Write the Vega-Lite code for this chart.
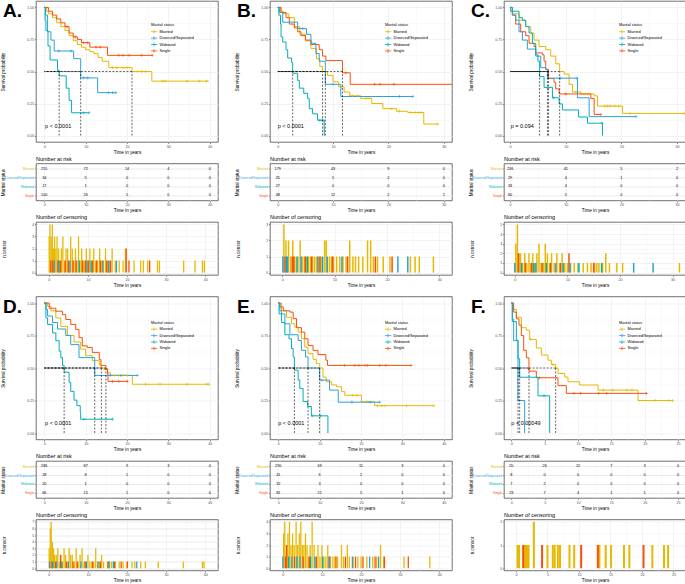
{
"$schema": "https://vega.github.io/schema/vega-lite/v6.json",
"padding": {"left": 0, "top": 0, "right": 0, "bottom": 0},
"background": "white",
"config": {
 "font": "Liberation Sans",
 "view": {"stroke": "#333333", "strokeWidth": 0.7},
 "axis": {"labelFontSize": 3.6, "titleFontSize": 4.6, "titleFontWeight": "normal", "labelColor": "#4d4d4d", "titleColor": "#000000", "tickSize": 1.5, "tickColor": "#333333", "tickWidth": 0.5, "labelPadding": 0.8, "titlePadding": 1.2, "domain": false, "grid": true, "gridColor": "#ebebeb", "labelOverlap": false, "tickCount": 100, "labelFont": "Liberation Sans", "titleFont": "Liberation Sans"},
 "title": {"fontSize": 5.5, "fontWeight": "normal", "anchor": "start", "frame": "group", "offset": 1.5, "font": "Liberation Sans"},
 "legend": {"titleFontSize": 3.9, "titleFontWeight": "normal", "labelFontSize": 3.9, "symbolSize": 20, "symbolStrokeWidth": 0.8, "clipHeight": 5, "rowPadding": 1.4, "titlePadding": 2.3, "labelOffset": 2.5, "symbolType": "M-1.5,0H1.5M0,-0.8V0.8", "padding": 0, "labelFont": "Liberation Sans", "titleFont": "Liberation Sans"},
 "text": {"font": "Liberation Sans"}
},
"datasets": {
"km": [
{"p":"A","g":"Married","t":0,"s":1},{"p":"A","g":"Married","t":0.5,"s":0.97},{"p":"A","g":"Married","t":1,"s":0.95},{"p":"A","g":"Married","t":2,"s":0.92},{"p":"A","g":"Married","t":3,"s":0.88},{"p":"A","g":"Married","t":4,"s":0.85},{"p":"A","g":"Married","t":5,"s":0.82},{"p":"A","g":"Married","t":6,"s":0.78},{"p":"A","g":"Married","t":7,"s":0.74},{"p":"A","g":"Married","t":8,"s":0.71},{"p":"A","g":"Married","t":9,"s":0.69},{"p":"A","g":"Married","t":10,"s":0.67},{"p":"A","g":"Married","t":11,"s":0.655},{"p":"A","g":"Married","t":12,"s":0.64},{"p":"A","g":"Married","t":13,"s":0.61},{"p":"A","g":"Married","t":14,"s":0.58},{"p":"A","g":"Married","t":15.6,"s":0.53},{"p":"A","g":"Married","t":21.2,"s":0.5},{"p":"A","g":"Married","t":26,"s":0.425},{"p":"A","g":"Married","t":39.8,"s":0.425},
{"p":"A","g":"Single","t":0,"s":1},{"p":"A","g":"Single","t":1,"s":0.97},{"p":"A","g":"Single","t":2,"s":0.94},{"p":"A","g":"Single","t":3,"s":0.91},{"p":"A","g":"Single","t":4,"s":0.88},{"p":"A","g":"Single","t":5,"s":0.85},{"p":"A","g":"Single","t":6,"s":0.8},{"p":"A","g":"Single","t":7,"s":0.77},{"p":"A","g":"Single","t":8,"s":0.75},{"p":"A","g":"Single","t":9,"s":0.725},{"p":"A","g":"Single","t":11,"s":0.69},{"p":"A","g":"Single","t":15.3,"s":0.626},{"p":"A","g":"Single","t":26.1,"s":0.626},
{"p":"A","g":"Divorced/Separated","t":0,"s":1},{"p":"A","g":"Divorced/Separated","t":0.3,"s":0.94},{"p":"A","g":"Divorced/Separated","t":0.8,"s":0.81},{"p":"A","g":"Divorced/Separated","t":1.6,"s":0.745},{"p":"A","g":"Divorced/Separated","t":2.4,"s":0.66},{"p":"A","g":"Divorced/Separated","t":7.1,"s":0.6},{"p":"A","g":"Divorced/Separated","t":8.8,"s":0.45},{"p":"A","g":"Divorced/Separated","t":12.9,"s":0.335},{"p":"A","g":"Divorced/Separated","t":17.3,"s":0.335},
{"p":"A","g":"Widowed","t":0,"s":1},{"p":"A","g":"Widowed","t":0.2,"s":0.9},{"p":"A","g":"Widowed","t":0.4,"s":0.82},{"p":"A","g":"Widowed","t":0.9,"s":0.7},{"p":"A","g":"Widowed","t":1.4,"s":0.59},{"p":"A","g":"Widowed","t":3.2,"s":0.51},{"p":"A","g":"Widowed","t":3.6,"s":0.466},{"p":"A","g":"Widowed","t":5.3,"s":0.37},{"p":"A","g":"Widowed","t":6,"s":0.275},{"p":"A","g":"Widowed","t":6.6,"s":0.178},{"p":"A","g":"Widowed","t":10.8,"s":0.178},
{"p":"B","g":"Married","t":0,"s":1},{"p":"B","g":"Married","t":0.5,"s":0.97},{"p":"B","g":"Married","t":1,"s":0.95},{"p":"B","g":"Married","t":2,"s":0.92},{"p":"B","g":"Married","t":3,"s":0.85},{"p":"B","g":"Married","t":4,"s":0.79},{"p":"B","g":"Married","t":5,"s":0.74},{"p":"B","g":"Married","t":6,"s":0.68},{"p":"B","g":"Married","t":7,"s":0.6},{"p":"B","g":"Married","t":7.6,"s":0.54},{"p":"B","g":"Married","t":8.1,"s":0.5},{"p":"B","g":"Married","t":9,"s":0.47},{"p":"B","g":"Married","t":10,"s":0.42},{"p":"B","g":"Married","t":11,"s":0.38},{"p":"B","g":"Married","t":12,"s":0.34},{"p":"B","g":"Married","t":13,"s":0.31},{"p":"B","g":"Married","t":15,"s":0.29},{"p":"B","g":"Married","t":17,"s":0.25},{"p":"B","g":"Married","t":19,"s":0.21},{"p":"B","g":"Married","t":21.5,"s":0.19},{"p":"B","g":"Married","t":23.5,"s":0.18},{"p":"B","g":"Married","t":26.4,"s":0.09},{"p":"B","g":"Married","t":28.9,"s":0.09},
{"p":"B","g":"Single","t":0,"s":1},{"p":"B","g":"Single","t":0.6,"s":0.96},{"p":"B","g":"Single","t":1.5,"s":0.92},{"p":"B","g":"Single","t":2.1,"s":0.87},{"p":"B","g":"Single","t":3,"s":0.84},{"p":"B","g":"Single","t":3.6,"s":0.81},{"p":"B","g":"Single","t":4.2,"s":0.78},{"p":"B","g":"Single","t":5,"s":0.745},{"p":"B","g":"Single","t":6,"s":0.71},{"p":"B","g":"Single","t":7.5,"s":0.67},{"p":"B","g":"Single","t":8.1,"s":0.62},{"p":"B","g":"Single","t":8.7,"s":0.585},{"p":"B","g":"Single","t":11.7,"s":0.49},{"p":"B","g":"Single","t":13.1,"s":0.4},{"p":"B","g":"Single","t":31.5,"s":0.4},
{"p":"B","g":"Divorced/Separated","t":0,"s":1},{"p":"B","g":"Divorced/Separated","t":0.3,"s":0.96},{"p":"B","g":"Divorced/Separated","t":0.9,"s":0.885},{"p":"B","g":"Divorced/Separated","t":3.6,"s":0.835},{"p":"B","g":"Divorced/Separated","t":5.2,"s":0.79},{"p":"B","g":"Divorced/Separated","t":6,"s":0.72},{"p":"B","g":"Divorced/Separated","t":6.9,"s":0.64},{"p":"B","g":"Divorced/Separated","t":7.5,"s":0.58},{"p":"B","g":"Divorced/Separated","t":8.6,"s":0.4},{"p":"B","g":"Divorced/Separated","t":11.4,"s":0.305},{"p":"B","g":"Divorced/Separated","t":24.4,"s":0.305},
{"p":"B","g":"Widowed","t":0,"s":1},{"p":"B","g":"Widowed","t":0.2,"s":0.94},{"p":"B","g":"Widowed","t":0.5,"s":0.87},{"p":"B","g":"Widowed","t":0.6,"s":0.77},{"p":"B","g":"Widowed","t":0.9,"s":0.73},{"p":"B","g":"Widowed","t":1.5,"s":0.67},{"p":"B","g":"Widowed","t":1.8,"s":0.605},{"p":"B","g":"Widowed","t":2.5,"s":0.57},{"p":"B","g":"Widowed","t":2.7,"s":0.486},{"p":"B","g":"Widowed","t":3.6,"s":0.43},{"p":"B","g":"Widowed","t":3.9,"s":0.37},{"p":"B","g":"Widowed","t":4.7,"s":0.33},{"p":"B","g":"Widowed","t":5.4,"s":0.29},{"p":"B","g":"Widowed","t":5.7,"s":0.21},{"p":"B","g":"Widowed","t":6.3,"s":0.17},{"p":"B","g":"Widowed","t":7.2,"s":0.12},{"p":"B","g":"Widowed","t":8.4,"s":0},
{"p":"C","g":"Married","t":0,"s":1},{"p":"C","g":"Married","t":0.4,"s":0.95},{"p":"C","g":"Married","t":1.6,"s":0.9},{"p":"C","g":"Married","t":2.8,"s":0.85},{"p":"C","g":"Married","t":3.7,"s":0.8},{"p":"C","g":"Married","t":4.3,"s":0.745},{"p":"C","g":"Married","t":5.2,"s":0.695},{"p":"C","g":"Married","t":6.4,"s":0.67},{"p":"C","g":"Married","t":7.3,"s":0.62},{"p":"C","g":"Married","t":8.2,"s":0.56},{"p":"C","g":"Married","t":8.9,"s":0.5},{"p":"C","g":"Married","t":9.7,"s":0.48},{"p":"C","g":"Married","t":10.6,"s":0.4},{"p":"C","g":"Married","t":11.2,"s":0.34},{"p":"C","g":"Married","t":12.7,"s":0.325},{"p":"C","g":"Married","t":15.1,"s":0.31},{"p":"C","g":"Married","t":15.7,"s":0.23},{"p":"C","g":"Married","t":20.2,"s":0.173},{"p":"C","g":"Married","t":31.3,"s":0.173},
{"p":"C","g":"Single","t":0,"s":1},{"p":"C","g":"Single","t":0.4,"s":0.94},{"p":"C","g":"Single","t":1,"s":0.87},{"p":"C","g":"Single","t":1.9,"s":0.81},{"p":"C","g":"Single","t":2.8,"s":0.78},{"p":"C","g":"Single","t":3.4,"s":0.72},{"p":"C","g":"Single","t":4.3,"s":0.695},{"p":"C","g":"Single","t":4.6,"s":0.645},{"p":"C","g":"Single","t":5.8,"s":0.63},{"p":"C","g":"Single","t":6.1,"s":0.58},{"p":"C","g":"Single","t":6.4,"s":0.517},{"p":"C","g":"Single","t":6.9,"s":0.445},{"p":"C","g":"Single","t":7.9,"s":0.415},{"p":"C","g":"Single","t":8.2,"s":0.364},{"p":"C","g":"Single","t":8.8,"s":0.325},{"p":"C","g":"Single","t":14.5,"s":0.29},{"p":"C","g":"Single","t":15.1,"s":0.165},{"p":"C","g":"Single","t":16.3,"s":0.165},
{"p":"C","g":"Divorced/Separated","t":0,"s":1},{"p":"C","g":"Divorced/Separated","t":0.4,"s":0.94},{"p":"C","g":"Divorced/Separated","t":1,"s":0.9},{"p":"C","g":"Divorced/Separated","t":1.6,"s":0.81},{"p":"C","g":"Divorced/Separated","t":2.2,"s":0.745},{"p":"C","g":"Divorced/Separated","t":3.1,"s":0.675},{"p":"C","g":"Divorced/Separated","t":4.6,"s":0.62},{"p":"C","g":"Divorced/Separated","t":5.5,"s":0.53},{"p":"C","g":"Divorced/Separated","t":6.4,"s":0.517},{"p":"C","g":"Divorced/Separated","t":6.7,"s":0.448},{"p":"C","g":"Divorced/Separated","t":12.1,"s":0.295},{"p":"C","g":"Divorced/Separated","t":14.2,"s":0.148},{"p":"C","g":"Divorced/Separated","t":22.6,"s":0.148},
{"p":"C","g":"Widowed","t":0,"s":1},{"p":"C","g":"Widowed","t":0.1,"s":0.97},{"p":"C","g":"Widowed","t":1.6,"s":0.92},{"p":"C","g":"Widowed","t":2.2,"s":0.9},{"p":"C","g":"Widowed","t":2.8,"s":0.85},{"p":"C","g":"Widowed","t":3.4,"s":0.8},{"p":"C","g":"Widowed","t":4,"s":0.72},{"p":"C","g":"Widowed","t":4.6,"s":0.63},{"p":"C","g":"Widowed","t":5,"s":0.58},{"p":"C","g":"Widowed","t":5.3,"s":0.46},{"p":"C","g":"Widowed","t":6.1,"s":0.376},{"p":"C","g":"Widowed","t":7.6,"s":0.295},{"p":"C","g":"Widowed","t":8.8,"s":0.247},{"p":"C","g":"Widowed","t":9.4,"s":0.2},{"p":"C","g":"Widowed","t":12.3,"s":0.145},{"p":"C","g":"Widowed","t":13.9,"s":0.097},{"p":"C","g":"Widowed","t":16.6,"s":0},
{"p":"D","g":"Married","t":0,"s":1},{"p":"D","g":"Married","t":0.8,"s":0.975},{"p":"D","g":"Married","t":1.6,"s":0.94},{"p":"D","g":"Married","t":2.8,"s":0.885},{"p":"D","g":"Married","t":4,"s":0.82},{"p":"D","g":"Married","t":5.6,"s":0.75},{"p":"D","g":"Married","t":7.2,"s":0.7},{"p":"D","g":"Married","t":8.8,"s":0.645},{"p":"D","g":"Married","t":10,"s":0.595},{"p":"D","g":"Married","t":11.6,"s":0.557},{"p":"D","g":"Married","t":13.3,"s":0.524},{"p":"D","g":"Married","t":13.8,"s":0.5},{"p":"D","g":"Married","t":14.5,"s":0.489},{"p":"D","g":"Married","t":15.3,"s":0.463},{"p":"D","g":"Married","t":16,"s":0.443},{"p":"D","g":"Married","t":21.3,"s":0.375},{"p":"D","g":"Married","t":39.8,"s":0.375},
{"p":"D","g":"Single","t":0,"s":1},{"p":"D","g":"Single","t":1.2,"s":0.96},{"p":"D","g":"Single","t":2.8,"s":0.937},{"p":"D","g":"Single","t":4.4,"s":0.91},{"p":"D","g":"Single","t":5.2,"s":0.873},{"p":"D","g":"Single","t":6.4,"s":0.835},{"p":"D","g":"Single","t":7.6,"s":0.797},{"p":"D","g":"Single","t":8.4,"s":0.734},{"p":"D","g":"Single","t":9.2,"s":0.67},{"p":"D","g":"Single","t":10.4,"s":0.658},{"p":"D","g":"Single","t":11.6,"s":0.62},{"p":"D","g":"Single","t":13.3,"s":0.565},{"p":"D","g":"Single","t":13.7,"s":0.52},{"p":"D","g":"Single","t":14.9,"s":0.494},{"p":"D","g":"Single","t":15.3,"s":0.463},{"p":"D","g":"Single","t":15.4,"s":0.397},{"p":"D","g":"Single","t":20.1,"s":0.397},
{"p":"D","g":"Divorced/Separated","t":0,"s":1},{"p":"D","g":"Divorced/Separated","t":0.4,"s":0.95},{"p":"D","g":"Divorced/Separated","t":0.8,"s":0.9},{"p":"D","g":"Divorced/Separated","t":2,"s":0.85},{"p":"D","g":"Divorced/Separated","t":3.2,"s":0.8},{"p":"D","g":"Divorced/Separated","t":5.2,"s":0.75},{"p":"D","g":"Divorced/Separated","t":6.4,"s":0.68},{"p":"D","g":"Divorced/Separated","t":8.4,"s":0.58},{"p":"D","g":"Divorced/Separated","t":12.2,"s":0.443},{"p":"D","g":"Divorced/Separated","t":22.5,"s":0.443},
{"p":"D","g":"Widowed","t":0,"s":1},{"p":"D","g":"Widowed","t":0.4,"s":0.886},{"p":"D","g":"Widowed","t":0.8,"s":0.835},{"p":"D","g":"Widowed","t":2,"s":0.77},{"p":"D","g":"Widowed","t":2.8,"s":0.71},{"p":"D","g":"Widowed","t":3.6,"s":0.63},{"p":"D","g":"Widowed","t":4,"s":0.58},{"p":"D","g":"Widowed","t":4.4,"s":0.52},{"p":"D","g":"Widowed","t":4.8,"s":0.468},{"p":"D","g":"Widowed","t":6,"s":0.39},{"p":"D","g":"Widowed","t":6.4,"s":0.32},{"p":"D","g":"Widowed","t":7.2,"s":0.253},{"p":"D","g":"Widowed","t":7.9,"s":0.21},{"p":"D","g":"Widowed","t":8.7,"s":0.16},{"p":"D","g":"Widowed","t":8.8,"s":0.106},{"p":"D","g":"Widowed","t":16.5,"s":0.106},
{"p":"E","g":"Married","t":0,"s":1},{"p":"E","g":"Married","t":0.8,"s":0.94},{"p":"E","g":"Married","t":2,"s":0.89},{"p":"E","g":"Married","t":3.2,"s":0.84},{"p":"E","g":"Married","t":4,"s":0.814},{"p":"E","g":"Married","t":4.8,"s":0.776},{"p":"E","g":"Married","t":5.6,"s":0.725},{"p":"E","g":"Married","t":6.4,"s":0.66},{"p":"E","g":"Married","t":7.2,"s":0.61},{"p":"E","g":"Married","t":8.4,"s":0.567},{"p":"E","g":"Married","t":9.2,"s":0.534},{"p":"E","g":"Married","t":10,"s":0.5},{"p":"E","g":"Married","t":10.8,"s":0.43},{"p":"E","g":"Married","t":11.6,"s":0.394},{"p":"E","g":"Married","t":12.9,"s":0.37},{"p":"E","g":"Married","t":14.1,"s":0.356},{"p":"E","g":"Married","t":15.3,"s":0.318},{"p":"E","g":"Married","t":16.1,"s":0.29},{"p":"E","g":"Married","t":20.1,"s":0.24},{"p":"E","g":"Married","t":23.3,"s":0.21},{"p":"E","g":"Married","t":37.6,"s":0.21},
{"p":"E","g":"Single","t":0,"s":1},{"p":"E","g":"Single","t":0.4,"s":0.97},{"p":"E","g":"Single","t":1.2,"s":0.94},{"p":"E","g":"Single","t":2.8,"s":0.93},{"p":"E","g":"Single","t":3.6,"s":0.88},{"p":"E","g":"Single","t":4.4,"s":0.81},{"p":"E","g":"Single","t":5.6,"s":0.776},{"p":"E","g":"Single","t":6.4,"s":0.725},{"p":"E","g":"Single","t":7.2,"s":0.674},{"p":"E","g":"Single","t":8.4,"s":0.636},{"p":"E","g":"Single","t":9.6,"s":0.603},{"p":"E","g":"Single","t":11.5,"s":0.56},{"p":"E","g":"Single","t":11.9,"s":0.52},{"p":"E","g":"Single","t":32.1,"s":0.52},
{"p":"E","g":"Divorced/Separated","t":0,"s":1},{"p":"E","g":"Divorced/Separated","t":0.4,"s":0.94},{"p":"E","g":"Divorced/Separated","t":0.8,"s":0.916},{"p":"E","g":"Divorced/Separated","t":1.6,"s":0.84},{"p":"E","g":"Divorced/Separated","t":2.8,"s":0.756},{"p":"E","g":"Divorced/Separated","t":4.8,"s":0.712},{"p":"E","g":"Divorced/Separated","t":5.6,"s":0.636},{"p":"E","g":"Divorced/Separated","t":6.6,"s":0.585},{"p":"E","g":"Divorced/Separated","t":7.2,"s":0.5},{"p":"E","g":"Divorced/Separated","t":10,"s":0.407},{"p":"E","g":"Divorced/Separated","t":12.4,"s":0.33},{"p":"E","g":"Divorced/Separated","t":14.5,"s":0.237},{"p":"E","g":"Divorced/Separated","t":24.5,"s":0.237},
{"p":"E","g":"Widowed","t":0,"s":1},{"p":"E","g":"Widowed","t":0.2,"s":0.916},{"p":"E","g":"Widowed","t":0.8,"s":0.85},{"p":"E","g":"Widowed","t":1.6,"s":0.756},{"p":"E","g":"Widowed","t":2.6,"s":0.725},{"p":"E","g":"Widowed","t":3.2,"s":0.65},{"p":"E","g":"Widowed","t":3.6,"s":0.585},{"p":"E","g":"Widowed","t":3.9,"s":0.483},{"p":"E","g":"Widowed","t":4.8,"s":0.407},{"p":"E","g":"Widowed","t":5.2,"s":0.343},{"p":"E","g":"Widowed","t":6,"s":0.242},{"p":"E","g":"Widowed","t":7.1,"s":0.204},{"p":"E","g":"Widowed","t":8,"s":0.132},{"p":"E","g":"Widowed","t":12,"s":0},
{"p":"F","g":"Married","t":0,"s":1},{"p":"F","g":"Married","t":0.25,"s":0.95},{"p":"F","g":"Married","t":0.75,"s":0.89},{"p":"F","g":"Married","t":1.5,"s":0.81},{"p":"F","g":"Married","t":2.25,"s":0.79},{"p":"F","g":"Married","t":2.75,"s":0.72},{"p":"F","g":"Married","t":3.75,"s":0.654},{"p":"F","g":"Married","t":4.5,"s":0.6},{"p":"F","g":"Married","t":5.5,"s":0.56},{"p":"F","g":"Married","t":6,"s":0.527},{"p":"F","g":"Married","t":6.65,"s":0.5},{"p":"F","g":"Married","t":7,"s":0.458},{"p":"F","g":"Married","t":8,"s":0.43},{"p":"F","g":"Married","t":8.5,"s":0.394},{"p":"F","g":"Married","t":10.25,"s":0.369},{"p":"F","g":"Married","t":13,"s":0.33},{"p":"F","g":"Married","t":19,"s":0.25},{"p":"F","g":"Married","t":24.25,"s":0.25},
{"p":"F","g":"Single","t":0,"s":1},{"p":"F","g":"Single","t":0.35,"s":0.93},{"p":"F","g":"Single","t":0.75,"s":0.878},{"p":"F","g":"Single","t":1.15,"s":0.83},{"p":"F","g":"Single","t":1.5,"s":0.75},{"p":"F","g":"Single","t":1.85,"s":0.636},{"p":"F","g":"Single","t":2.25,"s":0.578},{"p":"F","g":"Single","t":2.65,"s":0.476},{"p":"F","g":"Single","t":3.75,"s":0.425},{"p":"F","g":"Single","t":7,"s":0.364},{"p":"F","g":"Single","t":8.25,"s":0.305},{"p":"F","g":"Single","t":20.25,"s":0.305},
{"p":"F","g":"Divorced/Separated","t":0,"s":1},{"p":"F","g":"Divorced/Separated","t":0.15,"s":0.875},{"p":"F","g":"Divorced/Separated","t":0.35,"s":0.71},{"p":"F","g":"Divorced/Separated","t":1,"s":0.25},{"p":"F","g":"Divorced/Separated","t":2,"s":0},
{"p":"F","g":"Widowed","t":0,"s":1},{"p":"F","g":"Widowed","t":0.15,"s":0.857},{"p":"F","g":"Widowed","t":0.75,"s":0.714},{"p":"F","g":"Widowed","t":1,"s":0.571},{"p":"F","g":"Widowed","t":1.25,"s":0.429},{"p":"F","g":"Widowed","t":4,"s":0.286},{"p":"F","g":"Widowed","t":5.75,"s":0}
],
"kc": [
{"p":"A","g":"Married","t":16.5,"s":0.53},{"p":"A","g":"Married","t":17.5,"s":0.53},{"p":"A","g":"Married","t":19,"s":0.53},{"p":"A","g":"Married","t":20,"s":0.53},{"p":"A","g":"Married","t":22.5,"s":0.5},{"p":"A","g":"Married","t":23.5,"s":0.5},{"p":"A","g":"Married","t":24.5,"s":0.5},{"p":"A","g":"Married","t":28.5,"s":0.425},{"p":"A","g":"Married","t":29.2,"s":0.425},{"p":"A","g":"Married","t":34.5,"s":0.425},{"p":"A","g":"Married","t":37.5,"s":0.425},{"p":"A","g":"Married","t":39.2,"s":0.425},
{"p":"A","g":"Single","t":5.5,"s":0.85},{"p":"A","g":"Single","t":7.5,"s":0.77},{"p":"A","g":"Single","t":9.5,"s":0.725},{"p":"A","g":"Single","t":10.5,"s":0.725},{"p":"A","g":"Single","t":12.5,"s":0.69},{"p":"A","g":"Single","t":13.5,"s":0.69},{"p":"A","g":"Single","t":18,"s":0.626},{"p":"A","g":"Single","t":19,"s":0.626},{"p":"A","g":"Single","t":20.5,"s":0.626},{"p":"A","g":"Single","t":23.5,"s":0.626},{"p":"A","g":"Single","t":26.1,"s":0.626},
{"p":"A","g":"Divorced/Separated","t":3.5,"s":0.66},{"p":"A","g":"Divorced/Separated","t":6.5,"s":0.66},{"p":"A","g":"Divorced/Separated","t":9.5,"s":0.45},{"p":"A","g":"Divorced/Separated","t":10.5,"s":0.45},{"p":"A","g":"Divorced/Separated","t":15.5,"s":0.335},{"p":"A","g":"Divorced/Separated","t":16.5,"s":0.335},{"p":"A","g":"Divorced/Separated","t":17.3,"s":0.335},
{"p":"A","g":"Widowed","t":9.5,"s":0.178},{"p":"A","g":"Widowed","t":10.8,"s":0.178},
{"p":"B","g":"Married","t":13.5,"s":0.31},{"p":"B","g":"Married","t":14.5,"s":0.31},{"p":"B","g":"Married","t":16,"s":0.29},{"p":"B","g":"Married","t":16.5,"s":0.29},{"p":"B","g":"Married","t":20.5,"s":0.21},{"p":"B","g":"Married","t":22,"s":0.19},{"p":"B","g":"Married","t":24,"s":0.18},{"p":"B","g":"Married","t":24.8,"s":0.18},{"p":"B","g":"Married","t":25.5,"s":0.18},{"p":"B","g":"Married","t":26,"s":0.18},{"p":"B","g":"Married","t":28.9,"s":0.09},
{"p":"B","g":"Single","t":12.3,"s":0.49},{"p":"B","g":"Single","t":17.5,"s":0.4},{"p":"B","g":"Single","t":18.5,"s":0.4},{"p":"B","g":"Single","t":21,"s":0.4},
{"p":"B","g":"Divorced/Separated","t":4.5,"s":0.835},{"p":"B","g":"Divorced/Separated","t":10,"s":0.4},{"p":"B","g":"Divorced/Separated","t":22,"s":0.305},{"p":"B","g":"Divorced/Separated","t":24.4,"s":0.305},
{"p":"B","g":"Widowed","t":7.6,"s":0.12},{"p":"B","g":"Widowed","t":8.1,"s":0.12},
{"p":"C","g":"Married","t":11.8,"s":0.34},{"p":"C","g":"Married","t":13.5,"s":0.325},{"p":"C","g":"Married","t":17,"s":0.23},{"p":"C","g":"Married","t":17.5,"s":0.23},{"p":"C","g":"Married","t":18,"s":0.23},{"p":"C","g":"Married","t":18.8,"s":0.23},{"p":"C","g":"Married","t":19.5,"s":0.23},{"p":"C","g":"Married","t":21.5,"s":0.173},{"p":"C","g":"Married","t":31.3,"s":0.173},
{"p":"C","g":"Single","t":10,"s":0.325},{"p":"C","g":"Single","t":16.3,"s":0.165},
{"p":"C","g":"Divorced/Separated","t":9,"s":0.448},{"p":"C","g":"Divorced/Separated","t":12,"s":0.448},{"p":"C","g":"Divorced/Separated","t":22.6,"s":0.148},
{"p":"C","g":"Widowed","t":7.8,"s":0.295},{"p":"C","g":"Widowed","t":16.5,"s":0.097},
{"p":"D","g":"Married","t":17,"s":0.443},{"p":"D","g":"Married","t":18,"s":0.443},{"p":"D","g":"Married","t":19,"s":0.443},{"p":"D","g":"Married","t":20,"s":0.443},{"p":"D","g":"Married","t":24.5,"s":0.375},{"p":"D","g":"Married","t":28,"s":0.375},{"p":"D","g":"Married","t":34.5,"s":0.375},{"p":"D","g":"Married","t":39.3,"s":0.375},{"p":"D","g":"Married","t":39.8,"s":0.375},
{"p":"D","g":"Single","t":16.5,"s":0.397},{"p":"D","g":"Single","t":18,"s":0.397},{"p":"D","g":"Single","t":20.1,"s":0.397},
{"p":"D","g":"Divorced/Separated","t":16,"s":0.443},{"p":"D","g":"Divorced/Separated","t":18.5,"s":0.443},{"p":"D","g":"Divorced/Separated","t":22.5,"s":0.443},
{"p":"D","g":"Widowed","t":9.6,"s":0.106},{"p":"D","g":"Widowed","t":16.5,"s":0.106},
{"p":"E","g":"Married","t":18,"s":0.29},{"p":"E","g":"Married","t":19,"s":0.29},{"p":"E","g":"Married","t":21.5,"s":0.24},{"p":"E","g":"Married","t":24,"s":0.21},{"p":"E","g":"Married","t":25,"s":0.21},{"p":"E","g":"Married","t":25.8,"s":0.21},{"p":"E","g":"Married","t":31,"s":0.21},{"p":"E","g":"Married","t":37.6,"s":0.21},
{"p":"E","g":"Single","t":16,"s":0.52},{"p":"E","g":"Single","t":18.5,"s":0.52},{"p":"E","g":"Single","t":19.5,"s":0.52},{"p":"E","g":"Single","t":21,"s":0.52},{"p":"E","g":"Single","t":21.6,"s":0.52},{"p":"E","g":"Single","t":24.5,"s":0.52},{"p":"E","g":"Single","t":26,"s":0.52},{"p":"E","g":"Single","t":32.1,"s":0.52},
{"p":"E","g":"Divorced/Separated","t":10.5,"s":0.407},{"p":"E","g":"Divorced/Separated","t":17.8,"s":0.237},{"p":"E","g":"Divorced/Separated","t":22.2,"s":0.237},{"p":"E","g":"Divorced/Separated","t":24.5,"s":0.237},
{"p":"E","g":"Widowed","t":8.2,"s":0.132},{"p":"E","g":"Widowed","t":10.2,"s":0.132},
{"p":"F","g":"Married","t":2.9,"s":0.72},{"p":"F","g":"Married","t":6.3,"s":0.527},{"p":"F","g":"Married","t":13.8,"s":0.33},{"p":"F","g":"Married","t":15.2,"s":0.33},{"p":"F","g":"Married","t":17.3,"s":0.33},{"p":"F","g":"Married","t":18.1,"s":0.33},{"p":"F","g":"Married","t":21.6,"s":0.25},{"p":"F","g":"Married","t":23.6,"s":0.25},{"p":"F","g":"Married","t":24.2,"s":0.25},
{"p":"F","g":"Single","t":4.2,"s":0.425},{"p":"F","g":"Single","t":9.4,"s":0.305},{"p":"F","g":"Single","t":10.4,"s":0.305},{"p":"F","g":"Single","t":13.1,"s":0.305},{"p":"F","g":"Single","t":14.3,"s":0.305},{"p":"F","g":"Single","t":20.25,"s":0.305},
{"p":"F","g":"Widowed","t":4.9,"s":0.286}
],
"med": [
{"p":"A","t":3.6},{"p":"A","t":8.8},{"p":"A","t":21.2},
{"p":"B","t":2.7},{"p":"B","t":8.1},{"p":"B","t":8.6},{"p":"B","t":11.7},
{"p":"C","t":5.3},{"p":"C","t":6.7},{"p":"C","t":6.9},{"p":"C","t":8.9},
{"p":"D","t":4.8},{"p":"D","t":12.2},{"p":"D","t":13.8},{"p":"D","t":14.9},
{"p":"E","t":3.9},{"p":"E","t":7.2},{"p":"E","t":10},
{"p":"F","t":1},{"p":"F","t":1.25},{"p":"F","t":2.65},{"p":"F","t":6.65}
],
"pv": [
{"p":"A","label":"p < 0.0001"},{"p":"B","label":"p < 0.0001"},{"p":"C","label":"p = 0.094"},{"p":"D","label":"p < 0.0001"},{"p":"E","label":"p < 0.0001"},{"p":"F","label":"p = 0.00049"}
],
"risk": [
{"p":"A","g":"Married","t":0,"n":255},{"p":"A","g":"Married","t":10,"n":72},{"p":"A","g":"Married","t":20,"n":14},{"p":"A","g":"Married","t":30,"n":4},{"p":"A","g":"Married","t":40,"n":0},
{"p":"A","g":"Divorced/Separated","t":0,"n":34},{"p":"A","g":"Divorced/Separated","t":10,"n":5},{"p":"A","g":"Divorced/Separated","t":20,"n":0},{"p":"A","g":"Divorced/Separated","t":30,"n":0},{"p":"A","g":"Divorced/Separated","t":40,"n":0},
{"p":"A","g":"Widowed","t":0,"n":17},{"p":"A","g":"Widowed","t":10,"n":1},{"p":"A","g":"Widowed","t":20,"n":0},{"p":"A","g":"Widowed","t":30,"n":0},{"p":"A","g":"Widowed","t":40,"n":0},
{"p":"A","g":"Single","t":0,"n":100},{"p":"A","g":"Single","t":10,"n":26},{"p":"A","g":"Single","t":20,"n":5},{"p":"A","g":"Single","t":30,"n":0},{"p":"A","g":"Single","t":40,"n":0},
{"p":"B","g":"Married","t":0,"n":179},{"p":"B","g":"Married","t":10,"n":43},{"p":"B","g":"Married","t":20,"n":9},{"p":"B","g":"Married","t":30,"n":0},
{"p":"B","g":"Divorced/Separated","t":0,"n":25},{"p":"B","g":"Divorced/Separated","t":10,"n":5},{"p":"B","g":"Divorced/Separated","t":20,"n":2},{"p":"B","g":"Divorced/Separated","t":30,"n":0},
{"p":"B","g":"Widowed","t":0,"n":27},{"p":"B","g":"Widowed","t":10,"n":0},{"p":"B","g":"Widowed","t":20,"n":0},{"p":"B","g":"Widowed","t":30,"n":0},
{"p":"B","g":"Single","t":0,"n":48},{"p":"B","g":"Single","t":10,"n":12},{"p":"B","g":"Single","t":20,"n":2},{"p":"B","g":"Single","t":30,"n":1},
{"p":"C","g":"Married","t":0,"n":236},{"p":"C","g":"Married","t":10,"n":41},{"p":"C","g":"Married","t":20,"n":5},{"p":"C","g":"Married","t":30,"n":2},
{"p":"C","g":"Divorced/Separated","t":0,"n":29},{"p":"C","g":"Divorced/Separated","t":10,"n":4},{"p":"C","g":"Divorced/Separated","t":20,"n":1},{"p":"C","g":"Divorced/Separated","t":30,"n":0},
{"p":"C","g":"Widowed","t":0,"n":34},{"p":"C","g":"Widowed","t":10,"n":4},{"p":"C","g":"Widowed","t":20,"n":0},{"p":"C","g":"Widowed","t":30,"n":0},
{"p":"C","g":"Single","t":0,"n":60},{"p":"C","g":"Single","t":10,"n":5},{"p":"C","g":"Single","t":20,"n":0},{"p":"C","g":"Single","t":30,"n":0},
{"p":"D","g":"Married","t":0,"n":286},{"p":"D","g":"Married","t":10,"n":87},{"p":"D","g":"Married","t":20,"n":9},{"p":"D","g":"Married","t":30,"n":3},{"p":"D","g":"Married","t":40,"n":0},
{"p":"D","g":"Divorced/Separated","t":0,"n":28},{"p":"D","g":"Divorced/Separated","t":10,"n":8},{"p":"D","g":"Divorced/Separated","t":20,"n":1},{"p":"D","g":"Divorced/Separated","t":30,"n":0},{"p":"D","g":"Divorced/Separated","t":40,"n":0},
{"p":"D","g":"Widowed","t":0,"n":20},{"p":"D","g":"Widowed","t":10,"n":1},{"p":"D","g":"Widowed","t":20,"n":0},{"p":"D","g":"Widowed","t":30,"n":0},{"p":"D","g":"Widowed","t":40,"n":0},
{"p":"D","g":"Single","t":0,"n":66},{"p":"D","g":"Single","t":10,"n":15},{"p":"D","g":"Single","t":20,"n":1},{"p":"D","g":"Single","t":30,"n":0},{"p":"D","g":"Single","t":40,"n":0},
{"p":"E","g":"Married","t":0,"n":290},{"p":"E","g":"Married","t":10,"n":69},{"p":"E","g":"Married","t":20,"n":11},{"p":"E","g":"Married","t":30,"n":3},{"p":"E","g":"Married","t":40,"n":0},
{"p":"E","g":"Divorced/Separated","t":0,"n":41},{"p":"E","g":"Divorced/Separated","t":10,"n":6},{"p":"E","g":"Divorced/Separated","t":20,"n":2},{"p":"E","g":"Divorced/Separated","t":30,"n":0},{"p":"E","g":"Divorced/Separated","t":40,"n":0},
{"p":"E","g":"Widowed","t":0,"n":32},{"p":"E","g":"Widowed","t":10,"n":3},{"p":"E","g":"Widowed","t":20,"n":0},{"p":"E","g":"Widowed","t":30,"n":0},{"p":"E","g":"Widowed","t":40,"n":0},
{"p":"E","g":"Single","t":0,"n":81},{"p":"E","g":"Single","t":10,"n":21},{"p":"E","g":"Single","t":20,"n":5},{"p":"E","g":"Single","t":30,"n":1},{"p":"E","g":"Single","t":40,"n":0},
{"p":"F","g":"Married","t":0,"n":55},{"p":"F","g":"Married","t":5,"n":26},{"p":"F","g":"Married","t":10,"n":12},{"p":"F","g":"Married","t":15,"n":7},{"p":"F","g":"Married","t":20,"n":3},{"p":"F","g":"Married","t":25,"n":0},
{"p":"F","g":"Divorced/Separated","t":0,"n":8},{"p":"F","g":"Divorced/Separated","t":5,"n":0},{"p":"F","g":"Divorced/Separated","t":10,"n":0},{"p":"F","g":"Divorced/Separated","t":15,"n":0},{"p":"F","g":"Divorced/Separated","t":20,"n":0},{"p":"F","g":"Divorced/Separated","t":25,"n":0},
{"p":"F","g":"Widowed","t":0,"n":7},{"p":"F","g":"Widowed","t":5,"n":2},{"p":"F","g":"Widowed","t":10,"n":0},{"p":"F","g":"Widowed","t":15,"n":0},{"p":"F","g":"Widowed","t":20,"n":0},{"p":"F","g":"Widowed","t":25,"n":0},
{"p":"F","g":"Single","t":0,"n":23},{"p":"F","g":"Single","t":5,"n":7},{"p":"F","g":"Single","t":10,"n":4},{"p":"F","g":"Single","t":15,"n":1},{"p":"F","g":"Single","t":20,"n":1},{"p":"F","g":"Single","t":25,"n":0}
],
"cens": [
{"p":"A","g":"Married","t":0.1,"n":3},{"p":"A","g":"Married","t":0.3,"n":4},{"p":"A","g":"Married","t":0.6,"n":3},{"p":"A","g":"Married","t":0.9,"n":4},{"p":"A","g":"Married","t":1.2,"n":2},{"p":"A","g":"Married","t":1.5,"n":3},{"p":"A","g":"Married","t":1.8,"n":2},{"p":"A","g":"Married","t":2.1,"n":3},{"p":"A","g":"Married","t":2.5,"n":2},{"p":"A","g":"Married","t":2.8,"n":1},{"p":"A","g":"Married","t":3.2,"n":2},{"p":"A","g":"Married","t":3.6,"n":3},{"p":"A","g":"Married","t":4,"n":1},{"p":"A","g":"Married","t":4.4,"n":2},{"p":"A","g":"Married","t":4.8,"n":2},{"p":"A","g":"Married","t":5.2,"n":1},{"p":"A","g":"Married","t":5.6,"n":3},{"p":"A","g":"Married","t":6,"n":2},{"p":"A","g":"Married","t":6.4,"n":1},{"p":"A","g":"Married","t":6.8,"n":2},{"p":"A","g":"Married","t":7.2,"n":1},{"p":"A","g":"Married","t":7.6,"n":3},{"p":"A","g":"Married","t":8,"n":1},{"p":"A","g":"Married","t":8.4,"n":2},{"p":"A","g":"Married","t":8.8,"n":1},{"p":"A","g":"Married","t":9.2,"n":1},{"p":"A","g":"Married","t":9.6,"n":2},{"p":"A","g":"Married","t":10,"n":1},{"p":"A","g":"Married","t":10.5,"n":2},{"p":"A","g":"Married","t":11,"n":1},{"p":"A","g":"Married","t":11.5,"n":2},{"p":"A","g":"Married","t":12,"n":1},{"p":"A","g":"Married","t":12.5,"n":1},{"p":"A","g":"Married","t":13,"n":2},{"p":"A","g":"Married","t":13.5,"n":1},{"p":"A","g":"Married","t":14,"n":1},{"p":"A","g":"Married","t":14.5,"n":2},{"p":"A","g":"Married","t":15,"n":1},{"p":"A","g":"Married","t":15.5,"n":1},{"p":"A","g":"Married","t":16.2,"n":2},{"p":"A","g":"Married","t":17,"n":1},{"p":"A","g":"Married","t":18,"n":1},{"p":"A","g":"Married","t":19,"n":1},{"p":"A","g":"Married","t":19.6,"n":2},{"p":"A","g":"Married","t":21.8,"n":1},{"p":"A","g":"Married","t":23.5,"n":1},{"p":"A","g":"Married","t":24.2,"n":1},{"p":"A","g":"Married","t":25.3,"n":1},{"p":"A","g":"Married","t":27.8,"n":1},{"p":"A","g":"Married","t":28.3,"n":1},{"p":"A","g":"Married","t":34.5,"n":1},{"p":"A","g":"Married","t":37.4,"n":1},{"p":"A","g":"Married","t":39.3,"n":1},{"p":"A","g":"Married","t":39.8,"n":1},
{"p":"A","g":"Single","t":0.5,"n":1},{"p":"A","g":"Single","t":1,"n":1},{"p":"A","g":"Single","t":2.3,"n":1},{"p":"A","g":"Single","t":3,"n":1},{"p":"A","g":"Single","t":4.2,"n":1},{"p":"A","g":"Single","t":5,"n":1},{"p":"A","g":"Single","t":6.2,"n":1},{"p":"A","g":"Single","t":7,"n":1},{"p":"A","g":"Single","t":8.6,"n":1},{"p":"A","g":"Single","t":9.4,"n":1},{"p":"A","g":"Single","t":10.2,"n":1},{"p":"A","g":"Single","t":11.2,"n":1},{"p":"A","g":"Single","t":12.2,"n":1},{"p":"A","g":"Single","t":13.2,"n":1},{"p":"A","g":"Single","t":14.8,"n":1},{"p":"A","g":"Single","t":15.8,"n":1},{"p":"A","g":"Single","t":19.8,"n":2},{"p":"A","g":"Single","t":20.5,"n":1},{"p":"A","g":"Single","t":25.8,"n":1},
{"p":"A","g":"Divorced/Separated","t":1.4,"n":1},{"p":"A","g":"Divorced/Separated","t":5.4,"n":1},{"p":"A","g":"Divorced/Separated","t":9.8,"n":1},{"p":"A","g":"Divorced/Separated","t":13.8,"n":1},{"p":"A","g":"Divorced/Separated","t":15.3,"n":1},{"p":"A","g":"Divorced/Separated","t":17.3,"n":1},
{"p":"A","g":"Widowed","t":2.6,"n":1},{"p":"A","g":"Widowed","t":7.8,"n":1},{"p":"A","g":"Widowed","t":10.8,"n":1},
{"p":"B","g":"Married","t":0.3,"n":3},{"p":"B","g":"Married","t":0.7,"n":2},{"p":"B","g":"Married","t":1.2,"n":2},{"p":"B","g":"Married","t":1.6,"n":1},{"p":"B","g":"Married","t":2,"n":2},{"p":"B","g":"Married","t":2.4,"n":1},{"p":"B","g":"Married","t":3,"n":1},{"p":"B","g":"Married","t":3.4,"n":2},{"p":"B","g":"Married","t":3.8,"n":1},{"p":"B","g":"Married","t":4.2,"n":1},{"p":"B","g":"Married","t":4.6,"n":1},{"p":"B","g":"Married","t":5,"n":1},{"p":"B","g":"Married","t":5.4,"n":1},{"p":"B","g":"Married","t":5.8,"n":1},{"p":"B","g":"Married","t":6.2,"n":1},{"p":"B","g":"Married","t":6.6,"n":1},{"p":"B","g":"Married","t":7,"n":1},{"p":"B","g":"Married","t":7.4,"n":1},{"p":"B","g":"Married","t":8.1,"n":2},{"p":"B","g":"Married","t":8.4,"n":2},{"p":"B","g":"Married","t":9,"n":1},{"p":"B","g":"Married","t":9.4,"n":1},{"p":"B","g":"Married","t":9.8,"n":1},{"p":"B","g":"Married","t":10.4,"n":1},{"p":"B","g":"Married","t":11,"n":1},{"p":"B","g":"Married","t":11.6,"n":1},{"p":"B","g":"Married","t":12.2,"n":1},{"p":"B","g":"Married","t":12.9,"n":2},{"p":"B","g":"Married","t":13.5,"n":1},{"p":"B","g":"Married","t":14,"n":1},{"p":"B","g":"Married","t":14.6,"n":1},{"p":"B","g":"Married","t":15.4,"n":1},{"p":"B","g":"Married","t":16.3,"n":2},{"p":"B","g":"Married","t":16.9,"n":2},{"p":"B","g":"Married","t":17.4,"n":1},{"p":"B","g":"Married","t":18.2,"n":1},{"p":"B","g":"Married","t":19.3,"n":1},{"p":"B","g":"Married","t":20.6,"n":1},{"p":"B","g":"Married","t":24.5,"n":1},{"p":"B","g":"Married","t":25.4,"n":1},{"p":"B","g":"Married","t":26.2,"n":1},{"p":"B","g":"Married","t":28.9,"n":1},
{"p":"B","g":"Single","t":0.5,"n":1},{"p":"B","g":"Single","t":1.9,"n":1},{"p":"B","g":"Single","t":2.2,"n":1},{"p":"B","g":"Single","t":4.4,"n":1},{"p":"B","g":"Single","t":5.6,"n":1},{"p":"B","g":"Single","t":7.2,"n":1},{"p":"B","g":"Single","t":9.6,"n":1},{"p":"B","g":"Single","t":12.5,"n":1},{"p":"B","g":"Single","t":17.8,"n":1},{"p":"B","g":"Single","t":21,"n":1},
{"p":"B","g":"Divorced/Separated","t":0.1,"n":1},{"p":"B","g":"Divorced/Separated","t":1,"n":1},{"p":"B","g":"Divorced/Separated","t":3.6,"n":1},{"p":"B","g":"Divorced/Separated","t":6.8,"n":1},{"p":"B","g":"Divorced/Separated","t":8.6,"n":1},{"p":"B","g":"Divorced/Separated","t":11.4,"n":1},{"p":"B","g":"Divorced/Separated","t":22.1,"n":1},{"p":"B","g":"Divorced/Separated","t":24,"n":1},
{"p":"B","g":"Widowed","t":0.8,"n":1},{"p":"B","g":"Widowed","t":2.8,"n":1},{"p":"B","g":"Widowed","t":4.8,"n":1},{"p":"B","g":"Widowed","t":7.7,"n":1},
{"p":"C","g":"Married","t":0.2,"n":3},{"p":"C","g":"Married","t":0.5,"n":5},{"p":"C","g":"Married","t":0.8,"n":2},{"p":"C","g":"Married","t":1.1,"n":2},{"p":"C","g":"Married","t":1.5,"n":1},{"p":"C","g":"Married","t":1.9,"n":2},{"p":"C","g":"Married","t":2.3,"n":1},{"p":"C","g":"Married","t":2.7,"n":2},{"p":"C","g":"Married","t":3,"n":1},{"p":"C","g":"Married","t":3.4,"n":2},{"p":"C","g":"Married","t":3.8,"n":1},{"p":"C","g":"Married","t":4.2,"n":2},{"p":"C","g":"Married","t":4.6,"n":3},{"p":"C","g":"Married","t":5,"n":1},{"p":"C","g":"Married","t":5.5,"n":1},{"p":"C","g":"Married","t":5.8,"n":3},{"p":"C","g":"Married","t":6.2,"n":2},{"p":"C","g":"Married","t":6.6,"n":1},{"p":"C","g":"Married","t":7,"n":2},{"p":"C","g":"Married","t":7.5,"n":1},{"p":"C","g":"Married","t":8,"n":2},{"p":"C","g":"Married","t":8.5,"n":1},{"p":"C","g":"Married","t":9,"n":2},{"p":"C","g":"Married","t":9.5,"n":1},{"p":"C","g":"Married","t":10,"n":1},{"p":"C","g":"Married","t":10.6,"n":1},{"p":"C","g":"Married","t":11.3,"n":1},{"p":"C","g":"Married","t":12,"n":1},{"p":"C","g":"Married","t":13,"n":1},{"p":"C","g":"Married","t":13.8,"n":1},{"p":"C","g":"Married","t":14.5,"n":1},{"p":"C","g":"Married","t":15.2,"n":1},{"p":"C","g":"Married","t":15.6,"n":1},{"p":"C","g":"Married","t":16,"n":1},{"p":"C","g":"Married","t":16.7,"n":1},{"p":"C","g":"Married","t":17.3,"n":2},{"p":"C","g":"Married","t":18,"n":1},{"p":"C","g":"Married","t":19.4,"n":1},{"p":"C","g":"Married","t":20.5,"n":1},{"p":"C","g":"Married","t":31.3,"n":1},
{"p":"C","g":"Single","t":0.7,"n":2},{"p":"C","g":"Single","t":2,"n":1},{"p":"C","g":"Single","t":3.2,"n":1},{"p":"C","g":"Single","t":5.2,"n":1},{"p":"C","g":"Single","t":6.8,"n":1},{"p":"C","g":"Single","t":8.7,"n":1},{"p":"C","g":"Single","t":10.3,"n":2},{"p":"C","g":"Single","t":15,"n":1},
{"p":"C","g":"Divorced/Separated","t":0,"n":1},{"p":"C","g":"Divorced/Separated","t":4,"n":1},{"p":"C","g":"Divorced/Separated","t":7.8,"n":1},{"p":"C","g":"Divorced/Separated","t":10.5,"n":1},{"p":"C","g":"Divorced/Separated","t":22.6,"n":1},{"p":"C","g":"Divorced/Separated","t":26.3,"n":1},
{"p":"C","g":"Widowed","t":1.3,"n":1},{"p":"C","g":"Widowed","t":3.6,"n":1},{"p":"C","g":"Widowed","t":6,"n":1},{"p":"C","g":"Widowed","t":9.2,"n":1},{"p":"C","g":"Widowed","t":12.2,"n":1},{"p":"C","g":"Widowed","t":16.5,"n":1},
{"p":"D","g":"Married","t":0.1,"n":3},{"p":"D","g":"Married","t":0.4,"n":6},{"p":"D","g":"Married","t":0.6,"n":7},{"p":"D","g":"Married","t":0.9,"n":4},{"p":"D","g":"Married","t":1.2,"n":3},{"p":"D","g":"Married","t":1.5,"n":2},{"p":"D","g":"Married","t":1.9,"n":2},{"p":"D","g":"Married","t":2.3,"n":3},{"p":"D","g":"Married","t":2.7,"n":1},{"p":"D","g":"Married","t":3.1,"n":2},{"p":"D","g":"Married","t":3.5,"n":1},{"p":"D","g":"Married","t":3.9,"n":3},{"p":"D","g":"Married","t":4.3,"n":2},{"p":"D","g":"Married","t":4.7,"n":1},{"p":"D","g":"Married","t":5.2,"n":3},{"p":"D","g":"Married","t":5.6,"n":2},{"p":"D","g":"Married","t":6,"n":2},{"p":"D","g":"Married","t":6.5,"n":1},{"p":"D","g":"Married","t":7,"n":3},{"p":"D","g":"Married","t":7.5,"n":1},{"p":"D","g":"Married","t":8,"n":2},{"p":"D","g":"Married","t":8.5,"n":3},{"p":"D","g":"Married","t":9,"n":1},{"p":"D","g":"Married","t":9.5,"n":1},{"p":"D","g":"Married","t":10,"n":2},{"p":"D","g":"Married","t":10.5,"n":1},{"p":"D","g":"Married","t":11,"n":1},{"p":"D","g":"Married","t":11.5,"n":1},{"p":"D","g":"Married","t":12,"n":3},{"p":"D","g":"Married","t":12.5,"n":1},{"p":"D","g":"Married","t":13,"n":1},{"p":"D","g":"Married","t":13.5,"n":2},{"p":"D","g":"Married","t":14,"n":1},{"p":"D","g":"Married","t":15,"n":1},{"p":"D","g":"Married","t":15.5,"n":1},{"p":"D","g":"Married","t":16,"n":1},{"p":"D","g":"Married","t":17,"n":1},{"p":"D","g":"Married","t":18,"n":1},{"p":"D","g":"Married","t":19,"n":1},{"p":"D","g":"Married","t":20,"n":1},{"p":"D","g":"Married","t":21.3,"n":1},{"p":"D","g":"Married","t":22,"n":1},{"p":"D","g":"Married","t":23.5,"n":1},{"p":"D","g":"Married","t":24.7,"n":1},{"p":"D","g":"Married","t":28,"n":1},{"p":"D","g":"Married","t":34.4,"n":1},{"p":"D","g":"Married","t":39.3,"n":1},{"p":"D","g":"Married","t":39.7,"n":1},
{"p":"D","g":"Single","t":0.8,"n":1},{"p":"D","g":"Single","t":1.7,"n":1},{"p":"D","g":"Single","t":3,"n":2},{"p":"D","g":"Single","t":4.5,"n":1},{"p":"D","g":"Single","t":6.2,"n":1},{"p":"D","g":"Single","t":7.3,"n":1},{"p":"D","g":"Single","t":9.3,"n":1},{"p":"D","g":"Single","t":11.2,"n":1},{"p":"D","g":"Single","t":13.2,"n":1},{"p":"D","g":"Single","t":15.2,"n":1},{"p":"D","g":"Single","t":16.8,"n":1},{"p":"D","g":"Single","t":18.5,"n":1},{"p":"D","g":"Single","t":20.1,"n":1},
{"p":"D","g":"Divorced/Separated","t":0.2,"n":1},{"p":"D","g":"Divorced/Separated","t":2,"n":1},{"p":"D","g":"Divorced/Separated","t":5,"n":1},{"p":"D","g":"Divorced/Separated","t":8.2,"n":1},{"p":"D","g":"Divorced/Separated","t":12.6,"n":1},{"p":"D","g":"Divorced/Separated","t":15.4,"n":1},{"p":"D","g":"Divorced/Separated","t":22.5,"n":1},
{"p":"D","g":"Widowed","t":1,"n":1},{"p":"D","g":"Widowed","t":3.3,"n":1},{"p":"D","g":"Widowed","t":9.6,"n":1},{"p":"D","g":"Widowed","t":16.5,"n":1},
{"p":"E","g":"Married","t":0.2,"n":3},{"p":"E","g":"Married","t":0.5,"n":4},{"p":"E","g":"Married","t":0.9,"n":2},{"p":"E","g":"Married","t":1.3,"n":3},{"p":"E","g":"Married","t":1.7,"n":4},{"p":"E","g":"Married","t":2.1,"n":2},{"p":"E","g":"Married","t":2.5,"n":3},{"p":"E","g":"Married","t":2.9,"n":2},{"p":"E","g":"Married","t":3.4,"n":4},{"p":"E","g":"Married","t":3.8,"n":2},{"p":"E","g":"Married","t":4.2,"n":3},{"p":"E","g":"Married","t":4.6,"n":4},{"p":"E","g":"Married","t":5,"n":2},{"p":"E","g":"Married","t":5.4,"n":2},{"p":"E","g":"Married","t":5.8,"n":3},{"p":"E","g":"Married","t":6.2,"n":2},{"p":"E","g":"Married","t":6.6,"n":1},{"p":"E","g":"Married","t":7,"n":2},{"p":"E","g":"Married","t":7.5,"n":4},{"p":"E","g":"Married","t":8,"n":2},{"p":"E","g":"Married","t":8.5,"n":1},{"p":"E","g":"Married","t":9,"n":2},{"p":"E","g":"Married","t":9.5,"n":1},{"p":"E","g":"Married","t":10,"n":2},{"p":"E","g":"Married","t":10.5,"n":1},{"p":"E","g":"Married","t":11,"n":1},{"p":"E","g":"Married","t":11.5,"n":2},{"p":"E","g":"Married","t":12.2,"n":1},{"p":"E","g":"Married","t":12.8,"n":1},{"p":"E","g":"Married","t":13.3,"n":1},{"p":"E","g":"Married","t":14,"n":1},{"p":"E","g":"Married","t":15,"n":2},{"p":"E","g":"Married","t":15.5,"n":1},{"p":"E","g":"Married","t":16.5,"n":2},{"p":"E","g":"Married","t":17,"n":1},{"p":"E","g":"Married","t":18,"n":1},{"p":"E","g":"Married","t":19.2,"n":1},{"p":"E","g":"Married","t":20,"n":1},{"p":"E","g":"Married","t":21.5,"n":1},{"p":"E","g":"Married","t":23,"n":1},{"p":"E","g":"Married","t":24,"n":1},{"p":"E","g":"Married","t":25,"n":2},{"p":"E","g":"Married","t":25.8,"n":1},{"p":"E","g":"Married","t":31,"n":1},{"p":"E","g":"Married","t":37.6,"n":1},
{"p":"E","g":"Single","t":0.7,"n":1},{"p":"E","g":"Single","t":1,"n":2},{"p":"E","g":"Single","t":3,"n":1},{"p":"E","g":"Single","t":5.2,"n":1},{"p":"E","g":"Single","t":6.8,"n":1},{"p":"E","g":"Single","t":8.6,"n":1},{"p":"E","g":"Single","t":11.8,"n":1},{"p":"E","g":"Single","t":13.6,"n":1},{"p":"E","g":"Single","t":16,"n":1},{"p":"E","g":"Single","t":18.6,"n":1},{"p":"E","g":"Single","t":20.5,"n":1},{"p":"E","g":"Single","t":23.6,"n":1},{"p":"E","g":"Single","t":26,"n":1},{"p":"E","g":"Single","t":32.1,"n":1},
{"p":"E","g":"Divorced/Separated","t":0,"n":1},{"p":"E","g":"Divorced/Separated","t":2.3,"n":1},{"p":"E","g":"Divorced/Separated","t":4.4,"n":1},{"p":"E","g":"Divorced/Separated","t":8.2,"n":1},{"p":"E","g":"Divorced/Separated","t":12,"n":1},{"p":"E","g":"Divorced/Separated","t":17.8,"n":1},{"p":"E","g":"Divorced/Separated","t":22.2,"n":1},{"p":"E","g":"Divorced/Separated","t":24.5,"n":1},
{"p":"E","g":"Widowed","t":1.5,"n":1},{"p":"E","g":"Widowed","t":3.6,"n":1},{"p":"E","g":"Widowed","t":7.1,"n":1},{"p":"E","g":"Widowed","t":10.2,"n":1},
{"p":"F","g":"Married","t":0.25,"n":1},{"p":"F","g":"Married","t":0.5,"n":1},{"p":"F","g":"Married","t":1.4,"n":1},{"p":"F","g":"Married","t":1.6,"n":1},{"p":"F","g":"Married","t":1.8,"n":1},{"p":"F","g":"Married","t":2,"n":1},{"p":"F","g":"Married","t":2.85,"n":2},{"p":"F","g":"Married","t":5,"n":1},{"p":"F","g":"Married","t":5.85,"n":1},{"p":"F","g":"Married","t":6.15,"n":1},{"p":"F","g":"Married","t":6.65,"n":1},{"p":"F","g":"Married","t":7,"n":1},{"p":"F","g":"Married","t":8.5,"n":1},{"p":"F","g":"Married","t":9.25,"n":1},{"p":"F","g":"Married","t":13.25,"n":1},{"p":"F","g":"Married","t":14.25,"n":1},{"p":"F","g":"Married","t":15.1,"n":1},{"p":"F","g":"Married","t":17.15,"n":1},{"p":"F","g":"Married","t":18,"n":1},{"p":"F","g":"Married","t":21.65,"n":1},{"p":"F","g":"Married","t":23.5,"n":1},{"p":"F","g":"Married","t":24.15,"n":1},
{"p":"F","g":"Single","t":1.15,"n":1},{"p":"F","g":"Single","t":4.15,"n":1},{"p":"F","g":"Single","t":10.35,"n":1},{"p":"F","g":"Single","t":13,"n":1},{"p":"F","g":"Single","t":20.25,"n":1}
]
},
"columns": 3,
"spacing": {"row": 21.5, "column": 52},
"bounds": "flush",
"resolve": {"scale": {"color": "independent"}, "legend": {"color": "independent"}},
"concat": [
{"width": 182, "height": 141,
 "title": {"text": "A.", "fontSize": 19, "fontWeight": "bold", "dx": -33, "dy": 20, "offset": 0},
 "layer": [
  {"data": {"name": "km"}, "transform": [{"filter": "datum.p === 'A'"}],
   "mark": {"type": "line", "interpolate": "step-after", "strokeWidth": 1, "clip": true},
   "encoding": {
    "x": {"field": "t", "type": "quantitative", "scale": {"domain": [-2, 42], "nice": false, "zero": false}, "axis": {"title": "Time in years", "tickCount": 100, "values": [0,5,10,15,20,25,30,35,40], "labelExpr": "datum.value % 10 === 0 ? format(datum.value, 'd') : ''", "tickOpacity": {"expr": "datum.value % 10 === 0 ? 1 : 0"}, "gridWidth": {"expr": "datum.value % 10 === 0 ? 0.6 : 0.3"}}},
    "y": {"field": "s", "type": "quantitative", "scale": {"domain": [-0.05, 1.05], "nice": false, "zero": false}, "axis": {"title": "Survival probability", "titleX": -30.5, "tickCount": 100, "values": [0,0.125,0.25,0.375,0.5,0.625,0.75,0.875,1], "labelExpr": "(datum.value * 4) % 1 === 0 ? format(datum.value, '.2f') : ''", "tickOpacity": {"expr": "(datum.value * 4) % 1 === 0 ? 1 : 0"}, "gridWidth": {"expr": "(datum.value * 4) % 1 === 0 ? 0.6 : 0.3"}}},
    "color": {"field": "g", "type": "nominal", "scale": {"domain": ["Married","Divorced/Separated","Widowed","Single"], "range": ["#E7B800","#2E9FDF","#00AFBB","#FC4E07"]}, "legend": {"title": "Marital status", "orient": "none", "legendX": 115, "legendY": 22}}
   }},
  {"data": {"name": "kc"}, "transform": [{"filter": "datum.p === 'A'"}],
   "mark": {"type": "point", "shape": "M-1,0H1M0,-1V1", "size": 9, "strokeWidth": 0.6, "filled": false, "opacity": 1},
   "encoding": {"x": {"field": "t", "type": "quantitative"}, "y": {"field": "s", "type": "quantitative"}, "color": {"field": "g", "type": "nominal"}}},
  {"data": {"name": "med"}, "transform": [{"filter": "datum.p === 'A'"}],
   "mark": {"type": "rule", "color": "#000000", "strokeWidth": 0.6, "strokeDash": [2, 1.5]},
   "encoding": {"x": {"field": "t", "type": "quantitative"}, "x2": {"datum": 0}, "y": {"datum": 0.5, "type": "quantitative"}}},
  {"data": {"name": "med"}, "transform": [{"filter": "datum.p === 'A'"}],
   "mark": {"type": "rule", "color": "#000000", "strokeWidth": 0.6, "strokeDash": [2, 1.5]},
   "encoding": {"x": {"field": "t", "type": "quantitative"}, "y": {"datum": 0, "type": "quantitative"}, "y2": {"datum": 0.5}}},
  {"data": {"name": "pv"}, "transform": [{"filter": "datum.p === 'A'"}],
   "mark": {"type": "text", "align": "left", "baseline": "middle", "fontSize": 5.5, "color": "#000000"},
   "encoding": {"x": {"datum": 0.2, "type": "quantitative"}, "y": {"datum": 0.076, "type": "quantitative"}, "text": {"field": "label", "type": "nominal"}}}
 ]},
{"width": 182, "height": 141,
 "title": {"text": "B.", "fontSize": 19, "fontWeight": "bold", "dx": -33, "dy": 20, "offset": 0},
 "layer": [
  {"data": {"name": "km"}, "transform": [{"filter": "datum.p === 'B'"}],
   "mark": {"type": "line", "interpolate": "step-after", "strokeWidth": 1, "clip": true},
   "encoding": {
    "x": {"field": "t", "type": "quantitative", "scale": {"domain": [-1.4, 31.5], "nice": false, "zero": false}, "axis": {"title": "Time in years", "tickCount": 100, "values": [0,5,10,15,20,25,30], "labelExpr": "datum.value % 10 === 0 ? format(datum.value, 'd') : ''", "tickOpacity": {"expr": "datum.value % 10 === 0 ? 1 : 0"}, "gridWidth": {"expr": "datum.value % 10 === 0 ? 0.6 : 0.3"}}},
    "y": {"field": "s", "type": "quantitative", "scale": {"domain": [-0.05, 1.05], "nice": false, "zero": false}, "axis": {"title": "Survival probability", "titleX": -30.5, "tickCount": 100, "values": [0,0.125,0.25,0.375,0.5,0.625,0.75,0.875,1], "labelExpr": "(datum.value * 4) % 1 === 0 ? format(datum.value, '.2f') : ''", "tickOpacity": {"expr": "(datum.value * 4) % 1 === 0 ? 1 : 0"}, "gridWidth": {"expr": "(datum.value * 4) % 1 === 0 ? 0.6 : 0.3"}}},
    "color": {"field": "g", "type": "nominal", "scale": {"domain": ["Married","Divorced/Separated","Widowed","Single"], "range": ["#E7B800","#2E9FDF","#00AFBB","#FC4E07"]}, "legend": {"title": "Marital status", "orient": "none", "legendX": 115, "legendY": 22}}
   }},
  {"data": {"name": "kc"}, "transform": [{"filter": "datum.p === 'B'"}],
   "mark": {"type": "point", "shape": "M-1,0H1M0,-1V1", "size": 9, "strokeWidth": 0.6, "filled": false, "opacity": 1},
   "encoding": {"x": {"field": "t", "type": "quantitative"}, "y": {"field": "s", "type": "quantitative"}, "color": {"field": "g", "type": "nominal"}}},
  {"data": {"name": "med"}, "transform": [{"filter": "datum.p === 'B'"}],
   "mark": {"type": "rule", "color": "#000000", "strokeWidth": 0.6, "strokeDash": [2, 1.5]},
   "encoding": {"x": {"field": "t", "type": "quantitative"}, "x2": {"datum": 0}, "y": {"datum": 0.5, "type": "quantitative"}}},
  {"data": {"name": "med"}, "transform": [{"filter": "datum.p === 'B'"}],
   "mark": {"type": "rule", "color": "#000000", "strokeWidth": 0.6, "strokeDash": [2, 1.5]},
   "encoding": {"x": {"field": "t", "type": "quantitative"}, "y": {"datum": 0, "type": "quantitative"}, "y2": {"datum": 0.5}}},
  {"data": {"name": "pv"}, "transform": [{"filter": "datum.p === 'B'"}],
   "mark": {"type": "text", "align": "left", "baseline": "middle", "fontSize": 5.5, "color": "#000000"},
   "encoding": {"x": {"datum": 0, "type": "quantitative"}, "y": {"datum": 0.076, "type": "quantitative"}, "text": {"field": "label", "type": "nominal"}}}
 ]},
{"width": 182, "height": 141,
 "title": {"text": "C.", "fontSize": 19, "fontWeight": "bold", "dx": -33, "dy": 20, "offset": 0},
 "layer": [
  {"data": {"name": "km"}, "transform": [{"filter": "datum.p === 'C'"}],
   "mark": {"type": "line", "interpolate": "step-after", "strokeWidth": 1, "clip": true},
   "encoding": {
    "x": {"field": "t", "type": "quantitative", "scale": {"domain": [-1.1, 31.6], "nice": false, "zero": false}, "axis": {"title": "Time in years", "tickCount": 100, "values": [0,5,10,15,20,25,30], "labelExpr": "datum.value % 10 === 0 ? format(datum.value, 'd') : ''", "tickOpacity": {"expr": "datum.value % 10 === 0 ? 1 : 0"}, "gridWidth": {"expr": "datum.value % 10 === 0 ? 0.6 : 0.3"}}},
    "y": {"field": "s", "type": "quantitative", "scale": {"domain": [-0.05, 1.05], "nice": false, "zero": false}, "axis": {"title": "Survival probability", "titleX": -30.5, "tickCount": 100, "values": [0,0.125,0.25,0.375,0.5,0.625,0.75,0.875,1], "labelExpr": "(datum.value * 4) % 1 === 0 ? format(datum.value, '.2f') : ''", "tickOpacity": {"expr": "(datum.value * 4) % 1 === 0 ? 1 : 0"}, "gridWidth": {"expr": "(datum.value * 4) % 1 === 0 ? 0.6 : 0.3"}}},
    "color": {"field": "g", "type": "nominal", "scale": {"domain": ["Married","Divorced/Separated","Widowed","Single"], "range": ["#E7B800","#2E9FDF","#00AFBB","#FC4E07"]}, "legend": {"title": "Marital status", "orient": "none", "legendX": 115, "legendY": 22}}
   }},
  {"data": {"name": "kc"}, "transform": [{"filter": "datum.p === 'C'"}],
   "mark": {"type": "point", "shape": "M-1,0H1M0,-1V1", "size": 9, "strokeWidth": 0.6, "filled": false, "opacity": 1},
   "encoding": {"x": {"field": "t", "type": "quantitative"}, "y": {"field": "s", "type": "quantitative"}, "color": {"field": "g", "type": "nominal"}}},
  {"data": {"name": "med"}, "transform": [{"filter": "datum.p === 'C'"}],
   "mark": {"type": "rule", "color": "#000000", "strokeWidth": 0.6, "strokeDash": [2, 1.5]},
   "encoding": {"x": {"field": "t", "type": "quantitative"}, "x2": {"datum": 0}, "y": {"datum": 0.5, "type": "quantitative"}}},
  {"data": {"name": "med"}, "transform": [{"filter": "datum.p === 'C'"}],
   "mark": {"type": "rule", "color": "#000000", "strokeWidth": 0.6, "strokeDash": [2, 1.5]},
   "encoding": {"x": {"field": "t", "type": "quantitative"}, "y": {"datum": 0, "type": "quantitative"}, "y2": {"datum": 0.5}}},
  {"data": {"name": "pv"}, "transform": [{"filter": "datum.p === 'C'"}],
   "mark": {"type": "text", "align": "left", "baseline": "middle", "fontSize": 5.5, "color": "#000000"},
   "encoding": {"x": {"datum": 0.1, "type": "quantitative"}, "y": {"datum": 0.076, "type": "quantitative"}, "text": {"field": "label", "type": "nominal"}}}
 ]},
{"width": 182, "height": 37, "title": {"text": "Number at risk"},
 "data": {"name": "risk"}, "transform": [{"filter": "datum.p === 'A'"}],
 "mark": {"type": "text", "fontSize": 3.8, "color": "#000000"},
 "encoding": {
  "x": {"field": "t", "type": "quantitative", "scale": {"domain": [-2, 42], "nice": false, "zero": false}, "axis": {"title": "Time in years", "tickCount": 100, "values": [0,5,10,15,20,25,30,35,40], "labelExpr": "datum.value % 10 === 0 ? format(datum.value, 'd') : ''", "tickOpacity": {"expr": "datum.value % 10 === 0 ? 1 : 0"}, "gridWidth": {"expr": "datum.value % 10 === 0 ? 0.6 : 0.3"}}},
  "y": {"field": "g", "type": "nominal", "scale": {"type": "point", "padding": 0.6, "domain": ["Married","Divorced/Separated","Widowed","Single"]}, "axis": {"title": "Marital status", "titleX": -30.5, "labelFontSize": 3.3, "labelColor": {"expr": "datum.value === 'Married' ? '#E7B800' : datum.value === 'Divorced/Separated' ? '#2E9FDF' : datum.value === 'Widowed' ? '#00AFBB' : '#FC4E07'"}}},
  "text": {"field": "n", "type": "quantitative"}
 }},
{"width": 182, "height": 37, "title": {"text": "Number at risk"},
 "data": {"name": "risk"}, "transform": [{"filter": "datum.p === 'B'"}],
 "mark": {"type": "text", "fontSize": 3.8, "color": "#000000"},
 "encoding": {
  "x": {"field": "t", "type": "quantitative", "scale": {"domain": [-1.4, 31.5], "nice": false, "zero": false}, "axis": {"title": "Time in years", "tickCount": 100, "values": [0,5,10,15,20,25,30], "labelExpr": "datum.value % 10 === 0 ? format(datum.value, 'd') : ''", "tickOpacity": {"expr": "datum.value % 10 === 0 ? 1 : 0"}, "gridWidth": {"expr": "datum.value % 10 === 0 ? 0.6 : 0.3"}}},
  "y": {"field": "g", "type": "nominal", "scale": {"type": "point", "padding": 0.6, "domain": ["Married","Divorced/Separated","Widowed","Single"]}, "axis": {"title": "Marital status", "titleX": -30.5, "labelFontSize": 3.3, "labelColor": {"expr": "datum.value === 'Married' ? '#E7B800' : datum.value === 'Divorced/Separated' ? '#2E9FDF' : datum.value === 'Widowed' ? '#00AFBB' : '#FC4E07'"}}},
  "text": {"field": "n", "type": "quantitative"}
 }},
{"width": 182, "height": 37, "title": {"text": "Number at risk"},
 "data": {"name": "risk"}, "transform": [{"filter": "datum.p === 'C'"}],
 "mark": {"type": "text", "fontSize": 3.8, "color": "#000000"},
 "encoding": {
  "x": {"field": "t", "type": "quantitative", "scale": {"domain": [-1.1, 31.6], "nice": false, "zero": false}, "axis": {"title": "Time in years", "tickCount": 100, "values": [0,5,10,15,20,25,30], "labelExpr": "datum.value % 10 === 0 ? format(datum.value, 'd') : ''", "tickOpacity": {"expr": "datum.value % 10 === 0 ? 1 : 0"}, "gridWidth": {"expr": "datum.value % 10 === 0 ? 0.6 : 0.3"}}},
  "y": {"field": "g", "type": "nominal", "scale": {"type": "point", "padding": 0.6, "domain": ["Married","Divorced/Separated","Widowed","Single"]}, "axis": {"title": "Marital status", "titleX": -30.5, "labelFontSize": 3.3, "labelColor": {"expr": "datum.value === 'Married' ? '#E7B800' : datum.value === 'Divorced/Separated' ? '#2E9FDF' : datum.value === 'Widowed' ? '#00AFBB' : '#FC4E07'"}}},
  "text": {"field": "n", "type": "quantitative"}
 }},
{"width": 182, "height": 53, "title": {"text": "Number of censoring"},
 "data": {"name": "cens"}, "transform": [{"filter": "datum.p === 'A'"}],
 "mark": {"type": "bar", "size": 1.3},
 "encoding": {
  "x": {"field": "t", "type": "quantitative", "scale": {"domain": [-2, 42], "nice": false, "zero": false}, "axis": {"title": "Time in years", "tickCount": 100, "values": [0,5,10,15,20,25,30,35,40], "labelExpr": "datum.value % 10 === 0 ? format(datum.value, 'd') : ''", "tickOpacity": {"expr": "datum.value % 10 === 0 ? 1 : 0"}, "gridWidth": {"expr": "datum.value % 10 === 0 ? 0.6 : 0.3"}}},
  "y": {"field": "n", "type": "quantitative", "stack": "zero", "scale": {"domain": [-0.2, 4.2], "nice": false, "zero": false}, "axis": {"title": "n.censor", "titleX": -30, "tickCount": 100, "values": [0,0.5,1,1.5,2,2.5,3,3.5,4], "labelExpr": "datum.value % 1 === 0 ? format(datum.value, 'd') : ''", "tickOpacity": {"expr": "datum.value % 1 === 0 ? 1 : 0"}, "gridWidth": {"expr": "datum.value % 1 === 0 ? 0.6 : 0.3"}}},
  "color": {"field": "g", "type": "nominal", "scale": {"domain": ["Married","Divorced/Separated","Widowed","Single"], "range": ["#E7B800","#2E9FDF","#00AFBB","#FC4E07"]}, "legend": null}
 }},
{"width": 182, "height": 53, "title": {"text": "Number of censoring"},
 "data": {"name": "cens"}, "transform": [{"filter": "datum.p === 'B'"}],
 "mark": {"type": "bar", "size": 1.5},
 "encoding": {
  "x": {"field": "t", "type": "quantitative", "scale": {"domain": [-1.4, 31.5], "nice": false, "zero": false}, "axis": {"title": "Time in years", "tickCount": 100, "values": [0,5,10,15,20,25,30], "labelExpr": "datum.value % 10 === 0 ? format(datum.value, 'd') : ''", "tickOpacity": {"expr": "datum.value % 10 === 0 ? 1 : 0"}, "gridWidth": {"expr": "datum.value % 10 === 0 ? 0.6 : 0.3"}}},
  "y": {"field": "n", "type": "quantitative", "stack": "zero", "scale": {"domain": [-0.15, 3.15], "nice": false, "zero": false}, "axis": {"title": "n.censor", "titleX": -30, "tickCount": 100, "values": [0,0.5,1,1.5,2,2.5,3], "labelExpr": "datum.value % 1 === 0 ? format(datum.value, 'd') : ''", "tickOpacity": {"expr": "datum.value % 1 === 0 ? 1 : 0"}, "gridWidth": {"expr": "datum.value % 1 === 0 ? 0.6 : 0.3"}}},
  "color": {"field": "g", "type": "nominal", "scale": {"domain": ["Married","Divorced/Separated","Widowed","Single"], "range": ["#E7B800","#2E9FDF","#00AFBB","#FC4E07"]}, "legend": null}
 }},
{"width": 182, "height": 53, "title": {"text": "Number of censoring"},
 "data": {"name": "cens"}, "transform": [{"filter": "datum.p === 'C'"}],
 "mark": {"type": "bar", "size": 1.5},
 "encoding": {
  "x": {"field": "t", "type": "quantitative", "scale": {"domain": [-1.1, 31.6], "nice": false, "zero": false}, "axis": {"title": "Time in years", "tickCount": 100, "values": [0,5,10,15,20,25,30], "labelExpr": "datum.value % 10 === 0 ? format(datum.value, 'd') : ''", "tickOpacity": {"expr": "datum.value % 10 === 0 ? 1 : 0"}, "gridWidth": {"expr": "datum.value % 10 === 0 ? 0.6 : 0.3"}}},
  "y": {"field": "n", "type": "quantitative", "stack": "zero", "scale": {"domain": [-0.25, 5.25], "nice": false, "zero": false}, "axis": {"title": "n.censor", "titleX": -30, "tickCount": 100, "values": [0,0.5,1,1.5,2,2.5,3,3.5,4,4.5,5], "labelExpr": "datum.value % 1 === 0 ? format(datum.value, 'd') : ''", "tickOpacity": {"expr": "datum.value % 1 === 0 ? 1 : 0"}, "gridWidth": {"expr": "datum.value % 1 === 0 ? 0.6 : 0.3"}}},
  "color": {"field": "g", "type": "nominal", "scale": {"domain": ["Married","Divorced/Separated","Widowed","Single"], "range": ["#E7B800","#2E9FDF","#00AFBB","#FC4E07"]}, "legend": null}
 }},
{"width": 182, "height": 143,
 "title": {"text": "D.", "fontSize": 19, "fontWeight": "bold", "dx": -33, "dy": 20, "offset": 0},
 "layer": [
  {"data": {"name": "km"}, "transform": [{"filter": "datum.p === 'D'"}],
   "mark": {"type": "line", "interpolate": "step-after", "strokeWidth": 1, "clip": true},
   "encoding": {
    "x": {"field": "t", "type": "quantitative", "scale": {"domain": [-2, 42], "nice": false, "zero": false}, "axis": {"title": "Time in years", "tickCount": 100, "values": [0,5,10,15,20,25,30,35,40], "labelExpr": "datum.value % 10 === 0 ? format(datum.value, 'd') : ''", "tickOpacity": {"expr": "datum.value % 10 === 0 ? 1 : 0"}, "gridWidth": {"expr": "datum.value % 10 === 0 ? 0.6 : 0.3"}}},
    "y": {"field": "s", "type": "quantitative", "scale": {"domain": [-0.05, 1.05], "nice": false, "zero": false}, "axis": {"title": "Survival probability", "titleX": -30.5, "tickCount": 100, "values": [0,0.125,0.25,0.375,0.5,0.625,0.75,0.875,1], "labelExpr": "(datum.value * 4) % 1 === 0 ? format(datum.value, '.2f') : ''", "tickOpacity": {"expr": "(datum.value * 4) % 1 === 0 ? 1 : 0"}, "gridWidth": {"expr": "(datum.value * 4) % 1 === 0 ? 0.6 : 0.3"}}},
    "color": {"field": "g", "type": "nominal", "scale": {"domain": ["Married","Divorced/Separated","Widowed","Single"], "range": ["#E7B800","#2E9FDF","#00AFBB","#FC4E07"]}, "legend": {"title": "Marital status", "orient": "none", "legendX": 115, "legendY": 24}}
   }},
  {"data": {"name": "kc"}, "transform": [{"filter": "datum.p === 'D'"}],
   "mark": {"type": "point", "shape": "M-1,0H1M0,-1V1", "size": 9, "strokeWidth": 0.6, "filled": false, "opacity": 1},
   "encoding": {"x": {"field": "t", "type": "quantitative"}, "y": {"field": "s", "type": "quantitative"}, "color": {"field": "g", "type": "nominal"}}},
  {"data": {"name": "med"}, "transform": [{"filter": "datum.p === 'D'"}],
   "mark": {"type": "rule", "color": "#000000", "strokeWidth": 0.6, "strokeDash": [2, 1.5]},
   "encoding": {"x": {"field": "t", "type": "quantitative"}, "x2": {"datum": 0}, "y": {"datum": 0.5, "type": "quantitative"}}},
  {"data": {"name": "med"}, "transform": [{"filter": "datum.p === 'D'"}],
   "mark": {"type": "rule", "color": "#000000", "strokeWidth": 0.6, "strokeDash": [2, 1.5]},
   "encoding": {"x": {"field": "t", "type": "quantitative"}, "y": {"datum": 0, "type": "quantitative"}, "y2": {"datum": 0.5}}},
  {"data": {"name": "pv"}, "transform": [{"filter": "datum.p === 'D'"}],
   "mark": {"type": "text", "align": "left", "baseline": "middle", "fontSize": 5.5, "color": "#000000"},
   "encoding": {"x": {"datum": 0.2, "type": "quantitative"}, "y": {"datum": 0.08, "type": "quantitative"}, "text": {"field": "label", "type": "nominal"}}}
 ]},
{"width": 182, "height": 143,
 "title": {"text": "E.", "fontSize": 19, "fontWeight": "bold", "dx": -33, "dy": 20, "offset": 0},
 "layer": [
  {"data": {"name": "km"}, "transform": [{"filter": "datum.p === 'E'"}],
   "mark": {"type": "line", "interpolate": "step-after", "strokeWidth": 1, "clip": true},
   "encoding": {
    "x": {"field": "t", "type": "quantitative", "scale": {"domain": [-2, 42], "nice": false, "zero": false}, "axis": {"title": "Time in years", "tickCount": 100, "values": [0,5,10,15,20,25,30,35,40], "labelExpr": "datum.value % 10 === 0 ? format(datum.value, 'd') : ''", "tickOpacity": {"expr": "datum.value % 10 === 0 ? 1 : 0"}, "gridWidth": {"expr": "datum.value % 10 === 0 ? 0.6 : 0.3"}}},
    "y": {"field": "s", "type": "quantitative", "scale": {"domain": [-0.05, 1.05], "nice": false, "zero": false}, "axis": {"title": "Survival probability", "titleX": -30.5, "tickCount": 100, "values": [0,0.125,0.25,0.375,0.5,0.625,0.75,0.875,1], "labelExpr": "(datum.value * 4) % 1 === 0 ? format(datum.value, '.2f') : ''", "tickOpacity": {"expr": "(datum.value * 4) % 1 === 0 ? 1 : 0"}, "gridWidth": {"expr": "(datum.value * 4) % 1 === 0 ? 0.6 : 0.3"}}},
    "color": {"field": "g", "type": "nominal", "scale": {"domain": ["Married","Divorced/Separated","Widowed","Single"], "range": ["#E7B800","#2E9FDF","#00AFBB","#FC4E07"]}, "legend": {"title": "Marital status", "orient": "none", "legendX": 115, "legendY": 24}}
   }},
  {"data": {"name": "kc"}, "transform": [{"filter": "datum.p === 'E'"}],
   "mark": {"type": "point", "shape": "M-1,0H1M0,-1V1", "size": 9, "strokeWidth": 0.6, "filled": false, "opacity": 1},
   "encoding": {"x": {"field": "t", "type": "quantitative"}, "y": {"field": "s", "type": "quantitative"}, "color": {"field": "g", "type": "nominal"}}},
  {"data": {"name": "med"}, "transform": [{"filter": "datum.p === 'E'"}],
   "mark": {"type": "rule", "color": "#000000", "strokeWidth": 0.6, "strokeDash": [2, 1.5]},
   "encoding": {"x": {"field": "t", "type": "quantitative"}, "x2": {"datum": 0}, "y": {"datum": 0.5, "type": "quantitative"}}},
  {"data": {"name": "med"}, "transform": [{"filter": "datum.p === 'E'"}],
   "mark": {"type": "rule", "color": "#000000", "strokeWidth": 0.6, "strokeDash": [2, 1.5]},
   "encoding": {"x": {"field": "t", "type": "quantitative"}, "y": {"datum": 0, "type": "quantitative"}, "y2": {"datum": 0.5}}},
  {"data": {"name": "pv"}, "transform": [{"filter": "datum.p === 'E'"}],
   "mark": {"type": "text", "align": "left", "baseline": "middle", "fontSize": 5.5, "color": "#000000"},
   "encoding": {"x": {"datum": 0, "type": "quantitative"}, "y": {"datum": 0.08, "type": "quantitative"}, "text": {"field": "label", "type": "nominal"}}}
 ]},
{"width": 182, "height": 143,
 "title": {"text": "F.", "fontSize": 19, "fontWeight": "bold", "dx": -33, "dy": 20, "offset": 0},
 "layer": [
  {"data": {"name": "km"}, "transform": [{"filter": "datum.p === 'F'"}],
   "mark": {"type": "line", "interpolate": "step-after", "strokeWidth": 1, "clip": true},
   "encoding": {
    "x": {"field": "t", "type": "quantitative", "scale": {"domain": [-1.1, 26.2], "nice": false, "zero": false}, "axis": {"title": "Time in years", "tickCount": 100, "values": [0,2.5,5,7.5,10,12.5,15,17.5,20,22.5,25], "labelExpr": "datum.value % 5 === 0 ? format(datum.value, 'd') : ''", "tickOpacity": {"expr": "datum.value % 5 === 0 ? 1 : 0"}, "gridWidth": {"expr": "datum.value % 5 === 0 ? 0.6 : 0.3"}}},
    "y": {"field": "s", "type": "quantitative", "scale": {"domain": [-0.05, 1.05], "nice": false, "zero": false}, "axis": {"title": "Survival probability", "titleX": -30.5, "tickCount": 100, "values": [0,0.125,0.25,0.375,0.5,0.625,0.75,0.875,1], "labelExpr": "(datum.value * 4) % 1 === 0 ? format(datum.value, '.2f') : ''", "tickOpacity": {"expr": "(datum.value * 4) % 1 === 0 ? 1 : 0"}, "gridWidth": {"expr": "(datum.value * 4) % 1 === 0 ? 0.6 : 0.3"}}},
    "color": {"field": "g", "type": "nominal", "scale": {"domain": ["Married","Divorced/Separated","Widowed","Single"], "range": ["#E7B800","#2E9FDF","#00AFBB","#FC4E07"]}, "legend": {"title": "Marital status", "orient": "none", "legendX": 115, "legendY": 24}}
   }},
  {"data": {"name": "kc"}, "transform": [{"filter": "datum.p === 'F'"}],
   "mark": {"type": "point", "shape": "M-1,0H1M0,-1V1", "size": 9, "strokeWidth": 0.6, "filled": false, "opacity": 1},
   "encoding": {"x": {"field": "t", "type": "quantitative"}, "y": {"field": "s", "type": "quantitative"}, "color": {"field": "g", "type": "nominal"}}},
  {"data": {"name": "med"}, "transform": [{"filter": "datum.p === 'F'"}],
   "mark": {"type": "rule", "color": "#000000", "strokeWidth": 0.6, "strokeDash": [2, 1.5]},
   "encoding": {"x": {"field": "t", "type": "quantitative"}, "x2": {"datum": 0}, "y": {"datum": 0.5, "type": "quantitative"}}},
  {"data": {"name": "med"}, "transform": [{"filter": "datum.p === 'F'"}],
   "mark": {"type": "rule", "color": "#000000", "strokeWidth": 0.6, "strokeDash": [2, 1.5]},
   "encoding": {"x": {"field": "t", "type": "quantitative"}, "y": {"datum": 0, "type": "quantitative"}, "y2": {"datum": 0.5}}},
  {"data": {"name": "pv"}, "transform": [{"filter": "datum.p === 'F'"}],
   "mark": {"type": "text", "align": "left", "baseline": "middle", "fontSize": 5.5, "color": "#000000"},
   "encoding": {"x": {"datum": 0, "type": "quantitative"}, "y": {"datum": 0.08, "type": "quantitative"}, "text": {"field": "label", "type": "nominal"}}}
 ]},
{"width": 182, "height": 37, "title": {"text": "Number at risk"},
 "data": {"name": "risk"}, "transform": [{"filter": "datum.p === 'D'"}],
 "mark": {"type": "text", "fontSize": 3.8, "color": "#000000"},
 "encoding": {
  "x": {"field": "t", "type": "quantitative", "scale": {"domain": [-2, 42], "nice": false, "zero": false}, "axis": {"title": "Time in years", "tickCount": 100, "values": [0,5,10,15,20,25,30,35,40], "labelExpr": "datum.value % 10 === 0 ? format(datum.value, 'd') : ''", "tickOpacity": {"expr": "datum.value % 10 === 0 ? 1 : 0"}, "gridWidth": {"expr": "datum.value % 10 === 0 ? 0.6 : 0.3"}}},
  "y": {"field": "g", "type": "nominal", "scale": {"type": "point", "padding": 0.6, "domain": ["Married","Divorced/Separated","Widowed","Single"]}, "axis": {"title": "Marital status", "titleX": -30.5, "labelFontSize": 3.3, "labelColor": {"expr": "datum.value === 'Married' ? '#E7B800' : datum.value === 'Divorced/Separated' ? '#2E9FDF' : datum.value === 'Widowed' ? '#00AFBB' : '#FC4E07'"}}},
  "text": {"field": "n", "type": "quantitative"}
 }},
{"width": 182, "height": 37, "title": {"text": "Number at risk"},
 "data": {"name": "risk"}, "transform": [{"filter": "datum.p === 'E'"}],
 "mark": {"type": "text", "fontSize": 3.8, "color": "#000000"},
 "encoding": {
  "x": {"field": "t", "type": "quantitative", "scale": {"domain": [-2, 42], "nice": false, "zero": false}, "axis": {"title": "Time in years", "tickCount": 100, "values": [0,5,10,15,20,25,30,35,40], "labelExpr": "datum.value % 10 === 0 ? format(datum.value, 'd') : ''", "tickOpacity": {"expr": "datum.value % 10 === 0 ? 1 : 0"}, "gridWidth": {"expr": "datum.value % 10 === 0 ? 0.6 : 0.3"}}},
  "y": {"field": "g", "type": "nominal", "scale": {"type": "point", "padding": 0.6, "domain": ["Married","Divorced/Separated","Widowed","Single"]}, "axis": {"title": "Marital status", "titleX": -30.5, "labelFontSize": 3.3, "labelColor": {"expr": "datum.value === 'Married' ? '#E7B800' : datum.value === 'Divorced/Separated' ? '#2E9FDF' : datum.value === 'Widowed' ? '#00AFBB' : '#FC4E07'"}}},
  "text": {"field": "n", "type": "quantitative"}
 }},
{"width": 182, "height": 37, "title": {"text": "Number at risk"},
 "data": {"name": "risk"}, "transform": [{"filter": "datum.p === 'F'"}],
 "mark": {"type": "text", "fontSize": 3.8, "color": "#000000"},
 "encoding": {
  "x": {"field": "t", "type": "quantitative", "scale": {"domain": [-1.1, 26.2], "nice": false, "zero": false}, "axis": {"title": "Time in years", "tickCount": 100, "values": [0,2.5,5,7.5,10,12.5,15,17.5,20,22.5,25], "labelExpr": "datum.value % 5 === 0 ? format(datum.value, 'd') : ''", "tickOpacity": {"expr": "datum.value % 5 === 0 ? 1 : 0"}, "gridWidth": {"expr": "datum.value % 5 === 0 ? 0.6 : 0.3"}}},
  "y": {"field": "g", "type": "nominal", "scale": {"type": "point", "padding": 0.6, "domain": ["Married","Divorced/Separated","Widowed","Single"]}, "axis": {"title": "Marital status", "titleX": -30.5, "labelFontSize": 3.3, "labelColor": {"expr": "datum.value === 'Married' ? '#E7B800' : datum.value === 'Divorced/Separated' ? '#2E9FDF' : datum.value === 'Widowed' ? '#00AFBB' : '#FC4E07'"}}},
  "text": {"field": "n", "type": "quantitative"}
 }},
{"width": 182, "height": 51, "title": {"text": "Number of censoring"},
 "data": {"name": "cens"}, "transform": [{"filter": "datum.p === 'D'"}],
 "mark": {"type": "bar", "size": 1.3},
 "encoding": {
  "x": {"field": "t", "type": "quantitative", "scale": {"domain": [-2, 42], "nice": false, "zero": false}, "axis": {"title": "Time in years", "tickCount": 100, "values": [0,5,10,15,20,25,30,35,40], "labelExpr": "datum.value % 10 === 0 ? format(datum.value, 'd') : ''", "tickOpacity": {"expr": "datum.value % 10 === 0 ? 1 : 0"}, "gridWidth": {"expr": "datum.value % 10 === 0 ? 0.6 : 0.3"}}},
  "y": {"field": "n", "type": "quantitative", "stack": "zero", "scale": {"domain": [-0.35, 7.35], "nice": false, "zero": false}, "axis": {"title": "n.censor", "titleX": -30, "tickCount": 100, "format": "d", "values": [0,1,2,3,4,5,6,7]}},
  "color": {"field": "g", "type": "nominal", "scale": {"domain": ["Married","Divorced/Separated","Widowed","Single"], "range": ["#E7B800","#2E9FDF","#00AFBB","#FC4E07"]}, "legend": null}
 }},
{"width": 182, "height": 51, "title": {"text": "Number of censoring"},
 "data": {"name": "cens"}, "transform": [{"filter": "datum.p === 'E'"}],
 "mark": {"type": "bar", "size": 1.3},
 "encoding": {
  "x": {"field": "t", "type": "quantitative", "scale": {"domain": [-2, 42], "nice": false, "zero": false}, "axis": {"title": "Time in years", "tickCount": 100, "values": [0,5,10,15,20,25,30,35,40], "labelExpr": "datum.value % 10 === 0 ? format(datum.value, 'd') : ''", "tickOpacity": {"expr": "datum.value % 10 === 0 ? 1 : 0"}, "gridWidth": {"expr": "datum.value % 10 === 0 ? 0.6 : 0.3"}}},
  "y": {"field": "n", "type": "quantitative", "stack": "zero", "scale": {"domain": [-0.2, 4.2], "nice": false, "zero": false}, "axis": {"title": "n.censor", "titleX": -30, "tickCount": 100, "values": [0,0.5,1,1.5,2,2.5,3,3.5,4], "labelExpr": "datum.value % 1 === 0 ? format(datum.value, 'd') : ''", "tickOpacity": {"expr": "datum.value % 1 === 0 ? 1 : 0"}, "gridWidth": {"expr": "datum.value % 1 === 0 ? 0.6 : 0.3"}}},
  "color": {"field": "g", "type": "nominal", "scale": {"domain": ["Married","Divorced/Separated","Widowed","Single"], "range": ["#E7B800","#2E9FDF","#00AFBB","#FC4E07"]}, "legend": null}
 }},
{"width": 182, "height": 51, "title": {"text": "Number of censoring"},
 "data": {"name": "cens"}, "transform": [{"filter": "datum.p === 'F'"}],
 "mark": {"type": "bar", "size": 2},
 "encoding": {
  "x": {"field": "t", "type": "quantitative", "scale": {"domain": [-1.1, 26.2], "nice": false, "zero": false}, "axis": {"title": "Time in years", "tickCount": 100, "values": [0,2.5,5,7.5,10,12.5,15,17.5,20,22.5,25], "labelExpr": "datum.value % 5 === 0 ? format(datum.value, 'd') : ''", "tickOpacity": {"expr": "datum.value % 5 === 0 ? 1 : 0"}, "gridWidth": {"expr": "datum.value % 5 === 0 ? 0.6 : 0.3"}}},
  "y": {"field": "n", "type": "quantitative", "stack": "zero", "scale": {"domain": [-0.1, 2.1], "nice": false, "zero": false}, "axis": {"title": "n.censor", "titleX": -30, "tickCount": 100, "values": [0,0.5,1,1.5,2], "labelExpr": "datum.value % 1 === 0 ? format(datum.value, 'd') : ''", "tickOpacity": {"expr": "datum.value % 1 === 0 ? 1 : 0"}, "gridWidth": {"expr": "datum.value % 1 === 0 ? 0.6 : 0.3"}}},
  "color": {"field": "g", "type": "nominal", "scale": {"domain": ["Married","Divorced/Separated","Widowed","Single"], "range": ["#E7B800","#2E9FDF","#00AFBB","#FC4E07"]}, "legend": null}
 }}
]
}
